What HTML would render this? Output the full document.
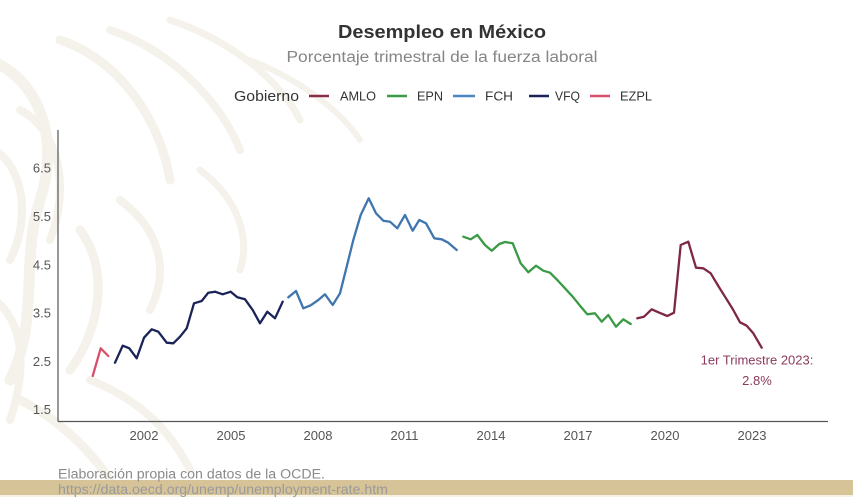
<!DOCTYPE html>
<html><head><meta charset="utf-8">
<style>
html,body{margin:0;padding:0;background:#fff;}
svg{display:block;}
text{font-family:"Liberation Sans",Arial,sans-serif;}
</style></head>
<body>
<svg width="853" height="497" viewBox="0 0 853 497" xmlns="http://www.w3.org/2000/svg" font-family="'Liberation Sans', Arial, sans-serif">
<rect width="853" height="497" fill="#ffffff"/>
<!-- faint background pattern -->
<g fill="none" stroke="#f5f2eb" stroke-linecap="round">
  <path d="M-10,60 C40,80 60,140 40,200 C20,260 40,320 10,380" stroke-width="11"/>
  <path d="M20,110 C60,130 70,190 50,240" stroke-width="8"/>
  <path d="M-5,150 C25,170 30,220 10,260" stroke-width="8"/>
  <path d="M60,40 C120,60 160,120 170,180" stroke-width="9"/>
  <path d="M110,30 C170,50 220,100 240,150" stroke-width="8"/>
  <path d="M170,20 C230,40 280,80 300,120" stroke-width="7"/>
  <path d="M80,230 C110,270 100,330 70,370" stroke-width="9"/>
  <path d="M120,200 C160,230 170,270 150,310" stroke-width="8"/>
  <path d="M200,170 C240,200 250,240 240,270" stroke-width="7"/>
  <path d="M20,400 C60,420 90,450 110,480" stroke-width="9"/>
  <path d="M90,380 C140,400 170,430 190,470" stroke-width="8"/>
  <path d="M250,60 C300,80 340,110 360,140" stroke-width="6"/>
  <path d="M-5,300 C20,320 30,360 10,420" stroke-width="8"/>
</g>
<!-- bottom band -->
<rect x="0" y="480" width="853" height="15" fill="#d6c398"/>
<rect x="0" y="495" width="853" height="2" fill="#f7f1e4"/>

<!-- title -->
<text x="442" y="38" text-anchor="middle" font-size="18" font-weight="bold" fill="#333" textLength="208" lengthAdjust="spacingAndGlyphs">Desempleo en México</text>
<text x="442" y="62" text-anchor="middle" font-size="15.5" fill="#858585" textLength="311" lengthAdjust="spacingAndGlyphs">Porcentaje trimestral de la fuerza laboral</text>

<!-- legend -->
<text x="234" y="101" font-size="15" fill="#333" textLength="65" lengthAdjust="spacingAndGlyphs">Gobierno</text>
<g stroke-width="2.5">
  <line x1="309" y1="96" x2="329" y2="96" stroke="#8a2b4a"/>
  <line x1="387" y1="96" x2="407" y2="96" stroke="#3a9a45"/>
  <line x1="453" y1="96" x2="475" y2="96" stroke="#4a86c0"/>
  <line x1="529" y1="96" x2="549" y2="96" stroke="#1a2358"/>
  <line x1="590" y1="96" x2="610" y2="96" stroke="#d8506a"/>
</g>
<g font-size="12.5" fill="#333">
  <text x="340" y="100.5" textLength="36" lengthAdjust="spacingAndGlyphs">AMLO</text>
  <text x="417" y="100.5" textLength="26" lengthAdjust="spacingAndGlyphs">EPN</text>
  <text x="485" y="100.5" textLength="28" lengthAdjust="spacingAndGlyphs">FCH</text>
  <text x="555" y="100.5" textLength="25" lengthAdjust="spacingAndGlyphs">VFQ</text>
  <text x="620" y="100.5" textLength="32" lengthAdjust="spacingAndGlyphs">EZPL</text>
</g>

<!-- axes -->
<line x1="58" y1="130" x2="58" y2="421.5" stroke="#555" stroke-width="1.2"/>
<line x1="58" y1="421.5" x2="828" y2="421.5" stroke="#555" stroke-width="1.2"/>

<!-- y labels -->
<g font-size="13" fill="#555" text-anchor="end">
  <text x="51" y="172.5">6.5</text>
  <text x="51" y="221">5.5</text>
  <text x="51" y="269.5">4.5</text>
  <text x="51" y="317.5">3.5</text>
  <text x="51" y="366">2.5</text>
  <text x="51" y="414">1.5</text>
</g>
<!-- x labels -->
<g font-size="13" fill="#555" text-anchor="middle">
  <text x="144" y="440">2002</text>
  <text x="231" y="440">2005</text>
  <text x="318" y="440">2008</text>
  <text x="404.5" y="440">2011</text>
  <text x="491" y="440">2014</text>
  <text x="578" y="440">2017</text>
  <text x="665" y="440">2020</text>
  <text x="752" y="440">2023</text>
</g>

<!-- series -->
<g fill="none" stroke-width="2.3" stroke-linejoin="round" stroke-linecap="round">
  <polyline stroke="#d8506a" points="92.7,376 100.7,348.3 108.3,356"/>
  <polyline stroke="#1a2358" points="115,362.7 122.7,345.7 129.3,348.3 136.7,358.3 144,337.7 151.7,329.3 158.3,331.7 166.7,342.7 173.3,343.3 180,336.7 186.7,328.3 194,303.3 201.7,301 208.3,292.7 215,291.7 222.7,294.3 230.7,291.7 237.3,297.3 245,299.3 252.7,310 260,323.3 267.3,311.7 275,318.3 282.7,301.7"/>
  <polyline stroke="#3f76ad" points="288.3,297.3 296,291 303.3,308.3 310.7,305.3 318.3,300 325,294.3 332.7,305 340,293.3 346.7,266.7 353.3,240 360.7,215 368.7,198.3 376,213.3 383.3,220.7 390,221.7 397.3,228.3 405,215 412.7,230.7 419.3,220 426,223.3 434.3,238.3 441.7,239.3 448.3,242.7 456.7,250"/>
  <polyline stroke="#3a9a45" points="463.3,236.7 470.7,239.3 477.3,235 485,245 491.7,250.7 499.3,244 505,242 512.7,243.3 520.7,263.3 528.3,272.3 536,265.7 543.3,270.7 550,272.7 557.3,280 565,288.3 572.7,296.7 580,305.7 587.3,314.3 595,313.3 601.7,321.7 608.3,315 616,326.7 623.3,319.3 630.7,324"/>
  <polyline stroke="#7e2746" points="637.3,318.3 644,316.7 651.7,309.3 659.3,312.7 667.3,316 674,312.7 680.7,245 688.3,241.7 696,267.7 703.3,268.3 710.7,273.3 718.3,286 725,296.7 732.7,309 740,322.3 746.7,325.7 753.3,333.3 761.7,347.7"/>
</g>

<!-- annotation -->
<g font-size="13" fill="#8b3b5c" text-anchor="middle" font-family="'Liberation Sans', Arial, sans-serif">
  <text x="757" y="364.5">1er Trimestre 2023:</text>
  <text x="757" y="385">2.8%</text>
</g>

<!-- footer -->
<text x="58" y="478.5" font-size="13.5" fill="#8a8a8a" textLength="267" lengthAdjust="spacingAndGlyphs">Elaboración propia con datos de la OCDE.</text>
<text x="58" y="494" font-size="13.5" fill="#9a9a9a" textLength="330" lengthAdjust="spacingAndGlyphs">https://data.oecd.org/unemp/unemployment-rate.htm</text>
</svg>
</body></html>
